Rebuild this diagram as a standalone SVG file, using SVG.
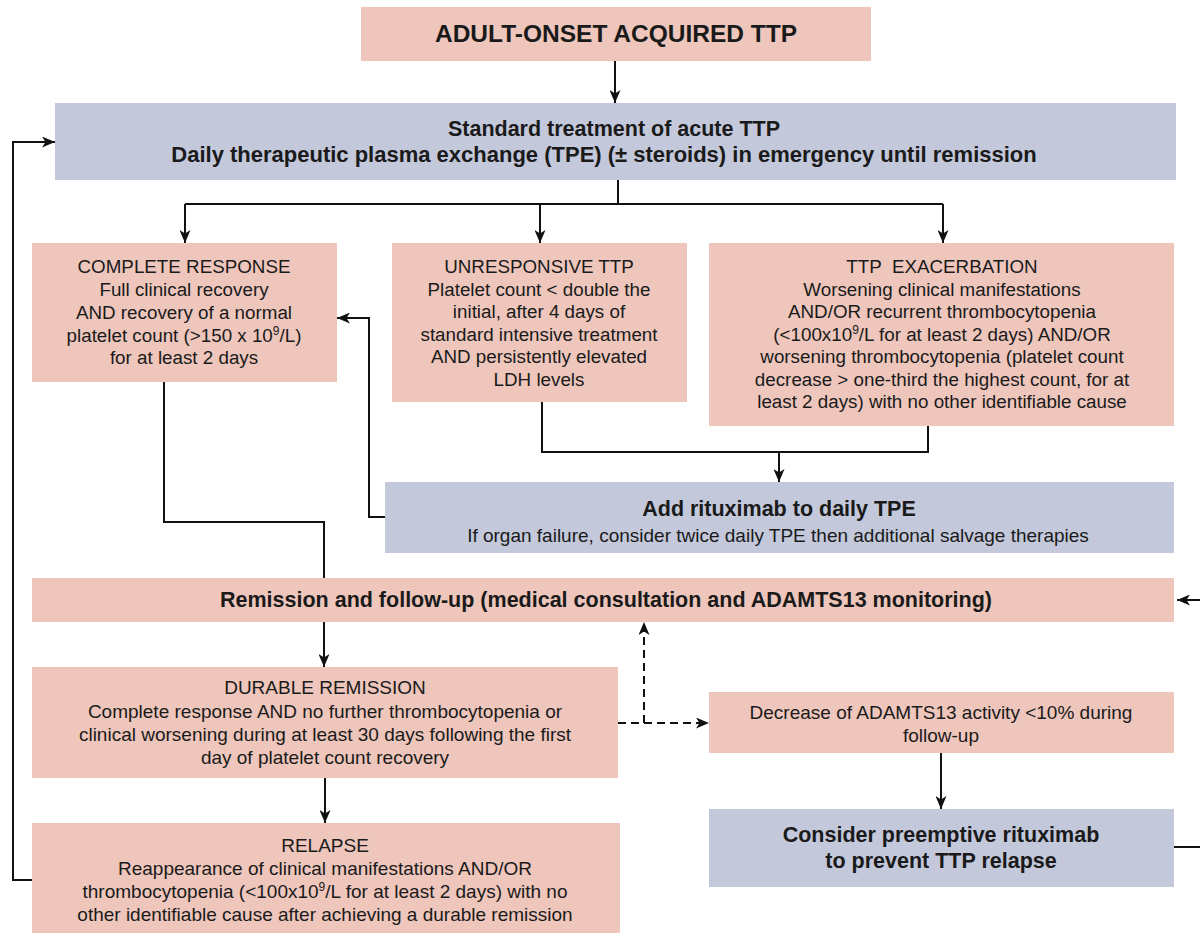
<svg xmlns="http://www.w3.org/2000/svg" width="1200" height="933" viewBox="0 0 1200 933">
  <defs>
    <marker id="arrow" viewBox="0 0 13 11" refX="13" refY="5.5" markerWidth="13" markerHeight="11" markerUnits="userSpaceOnUse" orient="auto">
      <path d="M0,0 L13,5.5 L0,11 L3.5,5.5 z" fill="#111"/>
    </marker>
    <style>
      .pink { fill: #eec6bc; }
      .blue { fill: #c3c8da; }
      text { font-family: "Liberation Sans", Arial, sans-serif; fill: #1a1a1a; text-anchor: middle; }
      .b { font-weight: bold; }
      .t { font-size: 18.8px; }
      .c { font-size: 19px; }
      .link { fill: none; stroke: #111; stroke-width: 2; }
      .dash { stroke-dasharray: 8 5; }
    </style>
  </defs>

  <!-- connectors -->
  <g id="connectors">
    <path class="link" d="M615 61 V103" marker-end="url(#arrow)"/>
    <path class="link" d="M618 180 V204"/>
    <path class="link" d="M185 204 H943"/>
    <path class="link" d="M185 204 V243" marker-end="url(#arrow)"/>
    <path class="link" d="M540 204 V243" marker-end="url(#arrow)"/>
    <path class="link" d="M943 204 V243" marker-end="url(#arrow)"/>
    <path class="link" d="M542 402 V452 H928 V426"/>
    <path class="link" d="M779 452 V482" marker-end="url(#arrow)"/>
    <path class="link" d="M385 517 H369 V318 H337" marker-end="url(#arrow)"/>
    <path class="link" d="M164 382 V522 H324 V578"/>
    <path class="link" d="M324 622 V667" marker-end="url(#arrow)"/>
    <path class="link" d="M325 778 V823" marker-end="url(#arrow)"/>
    <path class="link" d="M32 880 H13 V142 H55" marker-end="url(#arrow)"/>
    <path class="link dash" d="M618 723 H709" marker-end="url(#arrow)"/>
    <path class="link dash" d="M644 723 V622" marker-end="url(#arrow)"/>
    <path class="link" d="M941 753 V809" marker-end="url(#arrow)"/>
    <path class="link" d="M1174 847 H1215 V600 H1177" marker-end="url(#arrow)"/>
  </g>

  <g id="onset">
    <rect class="pink" x="361" y="7" width="510" height="54"/>
    <text class="b" x="616" y="42" font-size="24.5">ADULT-ONSET ACQUIRED TTP</text>
  </g>

  <g id="standard-treatment">
    <rect class="blue" x="55" y="103" width="1121" height="77"/>
    <text class="b" x="614" y="136" font-size="21.5">Standard treatment of acute TTP</text>
    <text class="b" x="604" y="162" font-size="22">Daily therapeutic plasma exchange (TPE) (± steroids) in emergency until remission</text>
  </g>

  <g id="complete-response">
    <rect class="pink" x="32" y="243" width="305" height="139"/>
    <text class="t" x="184" y="273">COMPLETE RESPONSE</text>
    <text class="t" x="184" y="296">Full clinical recovery</text>
    <text class="t" x="184" y="319">AND recovery of a normal</text>
    <text class="t" x="184" y="342">platelet count (&gt;150 x 10<tspan font-size="12" dy="-7">9</tspan><tspan dy="7">/L)</tspan></text>
    <text class="t" x="184" y="364">for at least 2 days</text>
  </g>

  <g id="unresponsive">
    <rect class="pink" x="392" y="243" width="295" height="159"/>
    <text class="t" x="539" y="273">UNRESPONSIVE TTP</text>
    <text class="t" x="539" y="295.5">Platelet count &lt; double the</text>
    <text class="t" x="539" y="318">initial, after 4 days of</text>
    <text class="t" x="539" y="340.5">standard intensive treatment</text>
    <text class="t" x="539" y="363">AND persistently elevated</text>
    <text class="t" x="539" y="385.5">LDH levels</text>
  </g>

  <g id="exacerbation">
    <rect class="pink" x="709" y="243" width="465" height="183"/>
    <text class="t" x="942" y="273" xml:space="preserve">TTP  EXACERBATION</text>
    <text class="t" x="942" y="295.5">Worsening clinical manifestations</text>
    <text class="t" x="942" y="318">AND/OR recurrent thrombocytopenia</text>
    <text class="t" x="942" y="340.5">(&lt;100x10<tspan font-size="12" dy="-7">9</tspan><tspan dy="7">/L for at least 2 days) AND/OR</tspan></text>
    <text class="t" x="942" y="363">worsening thrombocytopenia (platelet count</text>
    <text class="t" x="942" y="385.5">decrease &gt; one-third the highest count, for at</text>
    <text class="t" x="942" y="408">least 2 days) with no other identifiable cause</text>
  </g>

  <g id="rituximab">
    <rect class="blue" x="385" y="482" width="789" height="71"/>
    <text class="b" x="779" y="516" font-size="21.5">Add rituximab to daily TPE</text>
    <text x="778" y="542" font-size="19">If organ failure, consider twice daily TPE then additional salvage therapies</text>
  </g>

  <g id="follow-up">
    <rect class="pink" x="32" y="578" width="1142" height="44"/>
    <text class="b" x="606" y="607" font-size="21.5">Remission and follow-up (medical consultation and ADAMTS13 monitoring)</text>
  </g>

  <g id="durable-remission">
    <rect class="pink" x="32" y="667" width="586" height="111"/>
    <text class="c" x="325" y="694">DURABLE REMISSION</text>
    <text class="c" x="325" y="718">Complete response AND no further thrombocytopenia or</text>
    <text class="c" x="325" y="741">clinical worsening during at least 30 days following the first</text>
    <text class="c" x="325" y="764">day of platelet count recovery</text>
  </g>

  <g id="relapse">
    <rect class="pink" x="32" y="823" width="588" height="120"/>
    <text class="c" x="325" y="852">RELAPSE</text>
    <text class="c" x="325" y="875">Reappearance of clinical manifestations AND/OR</text>
    <text class="c" x="325" y="898">thrombocytopenia (&lt;100x10<tspan font-size="12" dy="-7">9</tspan><tspan dy="7">/L for at least 2 days) with no</tspan></text>
    <text class="c" x="325" y="921">other identifiable cause after achieving a durable remission</text>
  </g>

  <g id="adamts13-decrease">
    <rect class="pink" x="709" y="692" width="465" height="61"/>
    <text class="c" x="941" y="719">Decrease of ADAMTS13 activity &lt;10% during</text>
    <text class="c" x="941" y="742">follow-up</text>
  </g>

  <g id="preemptive-rituximab">
    <rect class="blue" x="709" y="809" width="465" height="78"/>
    <text class="b" x="941" y="842" font-size="21.5">Consider preemptive rituximab</text>
    <text class="b" x="941" y="868" font-size="21.5">to prevent TTP relapse</text>
  </g>
</svg>
